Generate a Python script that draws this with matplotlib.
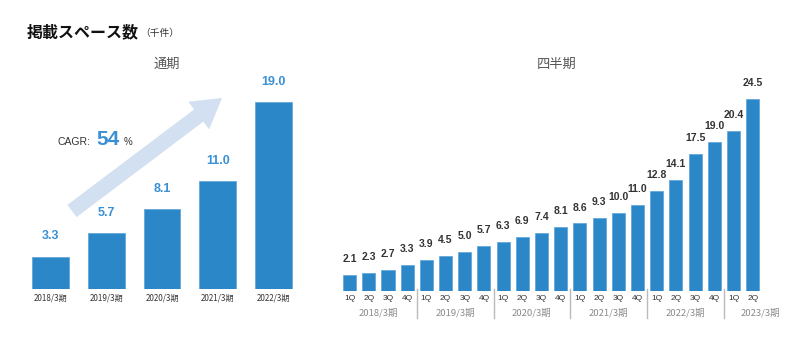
import numpy as np
import matplotlib
matplotlib.use("Agg")
import matplotlib.pyplot as plt
import matplotlib.transforms as mtransforms
from matplotlib.lines import Line2D

# ── Data ──────────────────────────────────────────────────────────────────────
annual_labels = ["2018/3期", "2019/3期", "2020/3期", "2021/3期", "2022/3期"]
annual_values = [3.3, 5.7, 8.1, 11.0, 19.0]

quarter_labels = ["1Q", "2Q", "3Q", "4Q"] * 5 + ["1Q", "2Q"]
quarter_values = [2.1, 2.3, 2.7, 3.3, 3.9, 4.5, 5.0, 5.7, 6.3, 6.9, 7.4, 8.1,
                  8.6, 9.3, 10.0, 11.0, 12.8, 14.1, 17.5, 19.0, 20.4, 24.5]
fy_labels = ["2018/3期", "2019/3期", "2020/3期", "2021/3期", "2022/3期", "2023/3期"]
fy_sizes  = [4, 4, 4, 4, 4, 2]
cagr = "54"

# ── Style ─────────────────────────────────────────────────────────────────────
plt.rcParams["font.family"] = ["Noto Sans CJK JP", "DejaVu Sans"]
NUM_FONT    = ["Liberation Sans", "Noto Sans CJK JP"]
BAR_COLOR   = "#2b87c8"
LABEL_BLUE  = "#3a90d4"
DARK        = "#333333"
GRAY        = "#8a8a8a"
W, H = 800, 349

fig = plt.figure(figsize=(W / 100, H / 100), dpi=100)

def fx(px):
    return px / W

def fy(py):
    return 1 - py / H

# ── Titles ────────────────────────────────────────────────────────────────────
fig.text(fx(27), fy(32), "掲載スペース数", fontsize=11.5, fontweight="bold",
         color="#111111", va="center", ha="left")
fig.text(fx(140), fy(33), "（千件）", fontsize=7, color=DARK, va="center", ha="left")
fig.text(fx(167), fy(64), "通期", fontsize=9.5, color="#555555", va="center", ha="center")
fig.text(fx(557), fy(64), "四半期", fontsize=9.5, color="#555555", va="center", ha="center")

# ── Left: annual bars ─────────────────────────────────────────────────────────
ax1 = fig.add_axes([fx(22), fy(289), fx(280), (289 - 60) / H])
x1 = np.arange(len(annual_values))
ax1.bar(x1, annual_values, width=0.66, color=BAR_COLOR, edgecolor="#5aa3d8", linewidth=0.5)
ax1.set_xlim(-0.51, 4.51)
ax1.set_ylim(0, 229 / 9.84)
for xi, v in zip(x1, annual_values):
    ax1.annotate(f"{v:.1f}", (xi, v), xytext=(0, 14.5), textcoords="offset points",
                 ha="center", va="center", fontsize=9, fontweight="bold", color=LABEL_BLUE,
                 family=NUM_FONT)
ax1.set_xticks(x1)
ax1.set_xticklabels(annual_labels, fontsize=5.8, color=DARK)
ax1.tick_params(axis="x", length=0, pad=3.5)
ax1.set_yticks([])
for s in ax1.spines.values():
    s.set_visible(False)

# growth arrow
ax1.annotate("", xy=(fx(222), fy(98)), xytext=(fx(72), fy(211)),
             xycoords="figure fraction", textcoords="figure fraction",
             arrowprops=dict(arrowstyle="simple,tail_width=1.1,head_width=2.5,head_length=2.1",
                             mutation_scale=10, color="#d3e0f1", lw=0, shrinkA=0, shrinkB=0),
             zorder=0)

fig.text(fx(58), fy(145), "CAGR:", fontsize=7.5, color=DARK, va="baseline", ha="left",
         family=NUM_FONT)
fig.text(fx(96), fy(145), cagr, fontsize=15, fontweight="bold", color=LABEL_BLUE,
         va="baseline", ha="left", family=NUM_FONT)
fig.text(fx(124), fy(145), "%", fontsize=7, color=DARK, va="baseline", ha="left",
         family=NUM_FONT)

# ── Right: quarterly bars ─────────────────────────────────────────────────────
ax2 = fig.add_axes([fx(330), fy(291), fx(445), (291 - 60) / H])
x2 = np.arange(len(quarter_values))
ax2.bar(x2, quarter_values, width=0.68, color=BAR_COLOR, edgecolor="#5aa3d8", linewidth=0.5)
ax2.set_xlim(-1.02, 22.16)
ax2.set_ylim(0, 231 / 7.85)
for xi, v in zip(x2, quarter_values):
    ax2.annotate(f"{v:.1f}", (xi, v), xytext=(0, 11.5), textcoords="offset points",
                 ha="center", va="center", fontsize=7.5, fontweight="bold", color=DARK,
                 family=NUM_FONT)
ax2.set_xticks(x2)
ax2.set_xticklabels(quarter_labels, fontsize=6, color=DARK, family=NUM_FONT)
ax2.tick_params(axis="x", length=0, pad=3)
ax2.set_yticks([])
for s in ax2.spines.values():
    s.set_visible(False)

# fiscal-year group labels and separators
trans = mtransforms.blended_transform_factory(ax2.transData, ax2.transAxes)
start = 0
for i, (lab, n) in enumerate(zip(fy_labels, fy_sizes)):
    center = start + (n - 1) / 2
    if i == len(fy_labels) - 1:
        center = start + 1.4
    ax2.annotate(lab, (center, 0), xycoords=trans, xytext=(0, -16), textcoords="offset points",
                 ha="center", va="center", fontsize=6.8, color=GRAY)
    if i > 0:
        ax2.add_line(Line2D([start - 0.5, start - 0.5], [0.01, -0.117], transform=trans,
                            color="#bbbbbb", lw=1, clip_on=False))
    start += n

fig.savefig("out.png", dpi=100)
